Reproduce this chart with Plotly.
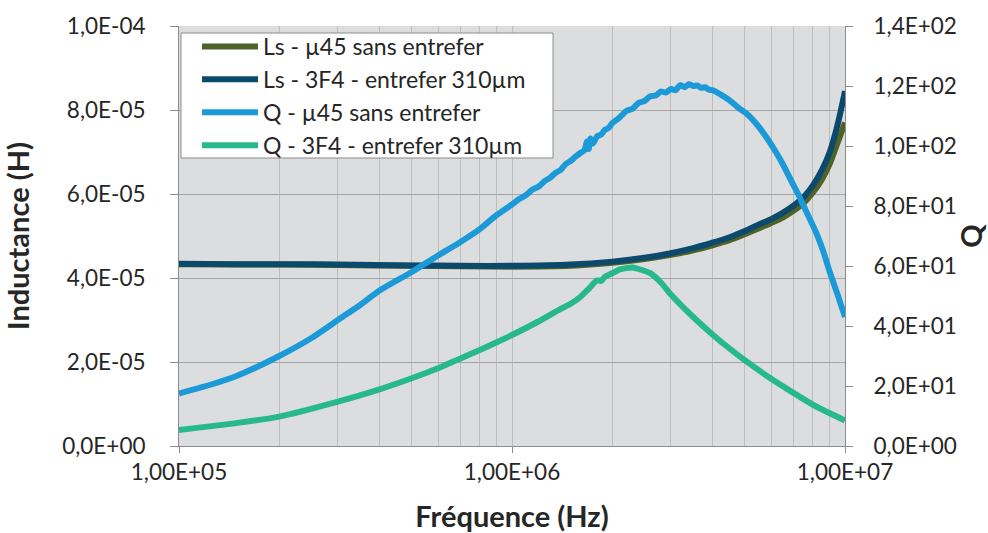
import plotly.graph_objects as go

# Inductance sweep (H) versus frequency (Hz)
freq_ls = [1e5, 1.5e5, 2e5, 3e5, 5e5, 7e5, 1e6, 1.5e6, 2e6, 2.5e6, 3e6, 3.5e6,
           4e6, 4.5e6, 5e6, 5.5e6, 6e6, 6.5e6, 7e6, 7.5e6, 8e6, 8.5e6, 9e6,
           9.5e6, 1e7]
ls_mu45 = [4.33e-5, 4.32e-5, 4.32e-5, 4.31e-5, 4.29e-5, 4.28e-5, 4.27e-5,
           4.29e-5, 4.36e-5, 4.45e-5, 4.55e-5, 4.66e-5, 4.78e-5, 4.90e-5,
           5.04e-5, 5.18e-5, 5.31e-5, 5.44e-5, 5.60e-5, 5.78e-5, 6.03e-5,
           6.33e-5, 6.72e-5, 7.22e-5, 7.70e-5]
ls_3f4 = [4.34e-5, 4.33e-5, 4.33e-5, 4.32e-5, 4.30e-5, 4.29e-5, 4.29e-5,
          4.32e-5, 4.39e-5, 4.48e-5, 4.59e-5, 4.71e-5, 4.84e-5, 4.97e-5,
          5.12e-5, 5.27e-5, 5.40e-5, 5.55e-5, 5.72e-5, 5.92e-5, 6.20e-5,
          6.55e-5, 7.00e-5, 7.65e-5, 8.45e-5]

# Quality factor, core mu45 without gap
freq_q_mu45 = [1e5, 1.25e5, 1.5e5, 2e5, 2.5e5, 3e5, 3.5e5, 4e5, 5e5, 6e5,
               7e5, 8e5, 9e5, 1.0e6, 1.05e6, 1.1e6, 1.15e6, 1.2e6, 1.25e6,
               1.3e6, 1.35e6, 1.4e6, 1.45e6, 1.5e6, 1.55e6, 1.6e6, 1.65e6,
               1.68e6, 1.7e6, 1.72e6, 1.75e6, 1.8e6, 1.85e6, 1.9e6, 1.95e6,
               2.0e6, 2.1e6, 2.2e6, 2.3e6, 2.4e6, 2.5e6, 2.6e6, 2.7e6, 2.8e6,
               2.9e6, 3.0e6, 3.1e6, 3.2e6, 3.3e6, 3.4e6, 3.5e6, 3.6e6, 3.7e6,
               3.8e6, 3.9e6, 4.0e6, 4.2e6, 4.4e6, 4.6e6, 4.8e6, 5.1e6, 5.5e6,
               5.8e6, 6.2e6, 6.5e6, 7e6, 7.3e6, 7.7e6, 8.2e6, 8.6e6, 9e6,
               9.5e6, 1e7]
q_mu45 = [17.5, 20.5, 23.5, 30.0, 36.0, 42.0, 47.0, 51.8, 58.0, 63.5,
          68.0, 72.3, 77.0, 80.5, 82.3, 83.6, 85.4, 86.4, 88.2,
          89.4, 91.0, 92.0, 94.0, 95.0, 96.4, 97.6, 98.6,
          101.5, 99.0, 102.5, 100.8, 103.2, 103.8, 105.4, 106.0,
          107.6, 109.4, 111.6, 112.4, 114.4, 115.0, 116.6, 116.8, 118.2,
          117.8, 119.0, 118.6, 120.3, 119.6, 120.6, 120.0, 120.2, 119.4,
          119.6, 118.8, 118.6, 117.4, 116.0, 114.4, 112.6, 110.5, 106.5,
          103.0, 98.0, 94.0, 87.0, 83.0, 77.5, 71.0, 65.0, 58.0,
          50.5, 43.0]

# Quality factor, 3F4 core with 310 um gap
freq_q_3f4 = [1e5, 1.5e5, 2e5, 3e5, 4e5, 5e5, 6e5, 7e5, 8e5, 9e5, 1e6,
              1.2e6, 1.4e6, 1.5e6, 1.6e6, 1.7e6, 1.8e6, 1.85e6, 1.9e6, 2.0e6,
              2.1e6, 2.2e6, 2.3e6, 2.4e6, 2.6e6, 2.8e6, 3.0e6, 3.5e6, 4.0e6,
              4.5e6, 5.0e6, 6.0e6, 7.0e6, 8.0e6, 9.0e6, 1e7]
q_3f4 = [5.3, 7.7, 9.8, 14.8, 18.9, 22.6, 25.9, 29.2, 32.0, 34.6, 37.0,
         41.5, 45.7, 47.4, 49.6, 52.4, 55.2, 55.0, 56.4, 57.6,
         58.8, 59.3, 59.5, 59.0, 57.6, 54.5, 50.5, 43.0, 37.2,
         32.5, 28.6, 22.4, 17.7, 13.8, 10.9, 8.5]

x_tickvals = [1e5, 1e6, 1e7]
x_ticktext = ["1,00E+05", "1,00E+06", "1,00E+07"]
x_minor = [m * 10 ** e for e in (5, 6) for m in range(2, 10)]
ly_tickvals = [0, 2e-5, 4e-5, 6e-5, 8e-5, 1e-4]
ly_ticktext = ["0,0E+00", "2,0E-05", "4,0E-05", "6,0E-05", "8,0E-05", "1,0E-04"]
ry_tickvals = [0, 20, 40, 60, 80, 100, 120, 140]
ry_ticktext = ["0,0E+00", "2,0E+01", "4,0E+01", "6,0E+01", "8,0E+01",
               "1,0E+02", "1,2E+02", "1,4E+02"]

FONT = "Lato, 'Open Sans', sans-serif"
TXT = "#262626"
AXIS = "#8c8c8c"
TICK_SIZE = 22.5
LEGEND_SIZE = 23
TITLE_SIZE = 29

fig = go.Figure()
fig.add_trace(go.Scatter(x=freq_ls, y=ls_mu45, mode="lines",
                         name="Ls - µ45 sans entrefer",
                         line=dict(color="#4f6228", width=6, shape="spline",
                                   smoothing=0.8)))
fig.add_trace(go.Scatter(x=freq_ls, y=ls_3f4, mode="lines",
                         name="Ls - 3F4 - entrefer 310µm",
                         line=dict(color="#0b4a6c", width=6, shape="spline",
                                   smoothing=0.8)))
fig.add_trace(go.Scatter(x=freq_q_mu45, y=q_mu45, mode="lines",
                         name="Q - µ45 sans entrefer", yaxis="y2",
                         line=dict(color="#1b9ad7", width=6, shape="spline",
                                   smoothing=0.6)))
fig.add_trace(go.Scatter(x=freq_q_3f4, y=q_3f4, mode="lines",
                         name="Q - 3F4 - entrefer 310µm", yaxis="y2",
                         line=dict(color="#27b98b", width=6, shape="spline",
                                   smoothing=0.6)))

# White framed box that sits behind the (transparent) legend
fig.add_shape(type="rect", xref="paper", yref="paper",
              x0=0.003, x1=0.5616, y0=0.6857, y1=0.9833,
              fillcolor="white", line=dict(color="#8c8c8c", width=1),
              layer="above")

fig.update_layout(
    width=988, height=533,
    margin=dict(l=179, r=143, t=26, b=87),
    paper_bgcolor="white",
    plot_bgcolor="#dcdddf",
    font=dict(family=FONT, size=TICK_SIZE, color=TXT),
    showlegend=True,
    legend=dict(x=0.027, y=1.0024, xanchor="left", yanchor="top",
                bgcolor="rgba(0,0,0,0)", borderwidth=0,
                font=dict(family=FONT, size=LEGEND_SIZE, color=TXT),
                itemwidth=56, tracegroupgap=0),
    xaxis=dict(
        type="log", range=[5, 7], automargin=False,
        tickmode="array", tickvals=x_tickvals, ticktext=x_ticktext,
        showgrid=True, gridcolor="#bdbdbd", gridwidth=1,
        minor=dict(tickmode="array", tickvals=x_minor, showgrid=True,
                   gridcolor="#bdbdbd", gridwidth=1, ticks=""),
        ticks="outside", ticklen=6, tickcolor=AXIS,
        showline=True, linecolor=AXIS, linewidth=1,
        zeroline=False,
        tickfont=dict(size=TICK_SIZE, color=TXT),
        title=dict(text="<b>Fréquence (Hz)</b>", standoff=22,
                   font=dict(size=TITLE_SIZE, color=TXT)),
    ),
    yaxis=dict(
        range=[0, 1e-4], automargin=False,
        tickmode="array", tickvals=ly_tickvals, ticktext=ly_ticktext,
        showgrid=True, gridcolor="#a5a5a5", gridwidth=1.3,
        ticks="outside", ticklen=8, tickcolor=AXIS,
        ticklabelstandoff=20,
        showline=True, linecolor=AXIS, linewidth=1,
        zeroline=False,
        tickfont=dict(size=TICK_SIZE, color=TXT),
        title=dict(text="<b>Inductance (H)</b>", standoff=26,
                   font=dict(size=TITLE_SIZE, color=TXT)),
    ),
    yaxis2=dict(
        range=[0, 140], overlaying="y", side="right", automargin=False,
        tickmode="array", tickvals=ry_tickvals, ticktext=ry_ticktext,
        showgrid=False,
        ticks="outside", ticklen=7, tickcolor=AXIS,
        ticklabelstandoff=16,
        showline=True, linecolor=AXIS, linewidth=1,
        zeroline=False,
        tickfont=dict(size=TICK_SIZE, color=TXT),
        title=dict(text="<b>Q</b>", standoff=8,
                   font=dict(size=TITLE_SIZE, color=TXT)),
    ),
)

fig.write_html("out.html")
